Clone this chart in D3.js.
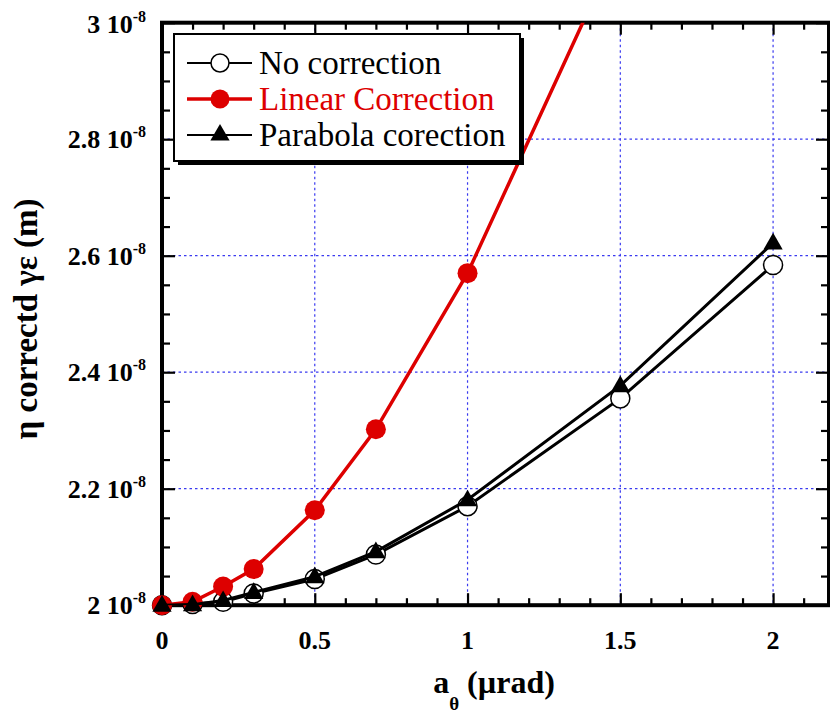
<!DOCTYPE html>
<html>
<head>
<meta charset="utf-8">
<script src="https://cdn.jsdelivr.net/npm/d3@7"></script>
<style>
    body { margin: 0; background: #fff; }
    svg text { font-family: "Liberation Serif", "Times New Roman", "DejaVu Serif", serif; }
</style>
</head>
<body>
<div id="chart"></div>
<script>
// values in units of 1e-8 m
const xVals = [0, 0.1, 0.2, 0.3, 0.5, 0.7, 1, 1.5, 2];
const noCorrection = [2.000, 2.002, 2.006, 2.020, 2.045, 2.087, 2.170, 2.355, 2.584];
const linearX = [0, 0.1, 0.2, 0.3, 0.5, 0.7, 1, 1.5];
const linearCorrection = [2.000, 2.006, 2.032, 2.062, 2.163, 2.302, 2.570, 3.14];
const parabolaCorrection = [2.000, 2.001, 2.008, 2.022, 2.049, 2.092, 2.181, 2.377, 2.622];

const xTicks = [0, 0.5, 1, 1.5, 2];
const xTickLabels = ['0', '0.5', '1', '1.5', '2'];
const yTicks = [2, 2.2, 2.4, 2.6, 2.8, 3];
const yTickLabels = ['2', '2.2', '2.4', '2.6', '2.8', '3'];
const yExponent = '-8';

const seriesNames = ['No correction', 'Linear Correction', 'Parabola corection'];

var width = 830, height = 713;
const plotLeft = 162, plotRight = 829, plotTop = 22.7, plotBottom = 605.2;
const red = '#dd0000', gridBlue = '#3a3af0';
const serif = '"Liberation Serif", "Times New Roman", "DejaVu Serif", serif';

const x = d3.scaleLinear().domain([0, 2.183]).range([plotLeft, plotRight]);
const y = d3.scaleLinear().domain([2, 3]).range([plotBottom, plotTop]);

var svg = d3.select('#chart')
    .append('svg')
    .attr('width', width)
    .attr('height', height);

svg.append('defs').append('clipPath').attr('id', 'plotclip')
    .append('rect')
    .attr('x', plotLeft).attr('y', plotTop)
    .attr('width', plotRight - plotLeft).attr('height', plotBottom - plotTop);

// grid
const grid = svg.append('g');
grid.selectAll('line.gx')
    .data(xTicks.filter(d => d > 0))
    .enter().append('line')
    .attr('x1', d => x(d)).attr('x2', d => x(d))
    .attr('y1', plotTop).attr('y2', plotBottom)
    .attr('stroke', gridBlue).attr('stroke-width', 1.2)
    .attr('stroke-dasharray', '2.5,3');
grid.selectAll('line.gy')
    .data(yTicks.filter(d => d > 2 && d < 3))
    .enter().append('line')
    .attr('y1', d => y(d)).attr('y2', d => y(d))
    .attr('x1', plotLeft).attr('x2', plotRight)
    .attr('stroke', gridBlue).attr('stroke-width', 1.2)
    .attr('stroke-dasharray', '2.5,3');

// ticks on all four sides, pointing inward
const xMinor = d3.range(0, 2.19, 0.1).map(d => +d.toFixed(2));
const yMinor = d3.range(2, 3.001, 0.05).map(d => +d.toFixed(2));
const isMajorX = d => xTicks.some(t => Math.abs(t - d) < 1e-6);
const isMajorY = d => yTicks.some(t => Math.abs(t - d) < 1e-6);

svg.append('g')
    .attr('transform', `translate(0,${plotBottom})`)
    .call(d3.axisBottom(x).tickValues(xMinor).tickSize(-7).tickFormat(''))
    .call(g => g.select('.domain').remove())
    .selectAll('.tick line').attr('stroke-width', 2.2)
    .attr('y2', d => isMajorX(d) ? -12 : -7);
svg.append('g')
    .attr('transform', `translate(0,${plotTop})`)
    .call(d3.axisTop(x).tickValues(xMinor).tickSize(-7).tickFormat(''))
    .call(g => g.select('.domain').remove())
    .selectAll('.tick line').attr('stroke-width', 2.2)
    .attr('y2', d => isMajorX(d) ? 12 : 7);
svg.append('g')
    .attr('transform', `translate(${plotLeft},0)`)
    .call(d3.axisLeft(y).tickValues(yMinor).tickSize(-8).tickFormat(''))
    .call(g => g.select('.domain').remove())
    .selectAll('.tick line').attr('stroke-width', 2.2)
    .attr('x2', d => isMajorY(d) ? 13 : 8);
svg.append('g')
    .attr('transform', `translate(${plotRight},0)`)
    .call(d3.axisRight(y).tickValues(yMinor).tickSize(-8).tickFormat(''))
    .call(g => g.select('.domain').remove())
    .selectAll('.tick line').attr('stroke-width', 2.2)
    .attr('x2', d => isMajorY(d) ? -13 : -8);

// frame
svg.append('rect')
    .attr('x', plotLeft).attr('y', plotTop)
    .attr('width', plotRight - plotLeft).attr('height', plotBottom - plotTop)
    .attr('fill', 'none').attr('stroke', '#000').attr('stroke-width', 4);

// tick labels
svg.append('g').selectAll('text')
    .data(xTicks)
    .enter().append('text')
    .attr('x', d => x(d)).attr('y', 649)
    .attr('text-anchor', 'middle')
    .attr('font-family', serif)
    .attr('font-size', 26).attr('font-weight', 'bold')
    .text((d, i) => xTickLabels[i]);

const yl = svg.append('g').selectAll('text')
    .data(yTicks)
    .enter().append('text')
    .attr('x', 146).attr('y', d => y(d) + (d === 3 ? 10 : 9))
    .attr('text-anchor', 'end')
    .attr('font-family', serif)
    .attr('font-size', 26).attr('font-weight', 'bold');
yl.append('tspan').text((d, i) => yTickLabels[i] + ' 10');
yl.append('tspan').attr('dy', -11).attr('font-size', 16).text(yExponent);

// axis titles
const xt = svg.append('text')
    .attr('x', 494).attr('y', 693)
    .attr('text-anchor', 'middle')
    .attr('font-family', serif)
    .attr('font-size', 32).attr('font-weight', 'bold');
xt.append('tspan').text('a');
xt.append('tspan').attr('dy', 17).attr('font-size', 19).text('θ');
xt.append('tspan').attr('dy', -17).text(' (µrad)');

svg.append('text')
    .attr('transform', `translate(37,${(plotTop + plotBottom) / 2 + 5}) rotate(-90)`)
    .attr('text-anchor', 'middle')
    .attr('font-family', serif)
    .attr('font-size', 33).attr('font-weight', 'bold')
    .text('η correctd γε (m)');

// series: lines clipped to the frame, markers drawn on top unclipped
const line = d3.line().x(d => x(d[0])).y(d => y(d[1]));
const marks = svg.append('g');

const tri = d3.symbol().type(d3.symbolTriangle).size(160);

function drawSeries(xs, ys, color, lw, marker) {
    const pts = xs.map((d, i) => [d, ys[i]]);
    const layer = marks.append('g');
    layer.append('path')
        .datum(pts)
        .attr('d', line)
        .attr('clip-path', 'url(#plotclip)')
        .attr('fill', 'none')
        .attr('stroke', color)
        .attr('stroke-width', lw);
    const m = layer.append('g').selectAll('.m')
        .data(pts.filter(d => d[1] <= 3))
        .enter();
    if (marker === 'open') {
        m.append('circle')
            .attr('cx', d => x(d[0])).attr('cy', d => y(d[1]))
            .attr('r', 9.5)
            .attr('fill', '#fff').attr('stroke', '#000').attr('stroke-width', 1.5);
    } else if (marker === 'filled') {
        m.append('circle')
            .attr('cx', d => x(d[0])).attr('cy', d => y(d[1]))
            .attr('r', 10)
            .attr('fill', color);
    } else {
        m.append('path')
            .attr('d', tri)
            .attr('transform', d => `translate(${x(d[0])},${y(d[1]) + 1})`)
            .attr('fill', '#000');
    }
}

drawSeries(xVals, noCorrection, '#000', 3, 'open');
drawSeries(linearX, linearCorrection, red, 3.5, 'filled');
drawSeries(xVals, parabolaCorrection, '#000', 3, 'triangle');

// legend
const lg = svg.append('g');
lg.append('rect')
    .attr('x', 178).attr('y', 38).attr('width', 346).attr('height', 127)
    .attr('fill', '#000');
lg.append('rect')
    .attr('x', 174).attr('y', 34).attr('width', 346).attr('height', 127)
    .attr('fill', '#fff').attr('stroke', '#000').attr('stroke-width', 2);

const legendRows = [
    { name: seriesNames[0], color: '#000', text: '#000', marker: 'open', y: 63 },
    { name: seriesNames[1], color: red, text: red, marker: 'filled', y: 99 },
    { name: seriesNames[2], color: '#000', text: '#000', marker: 'triangle', y: 135 }
];
legendRows.forEach(r => {
    lg.append('line')
        .attr('x1', 187).attr('x2', 252)
        .attr('y1', r.y).attr('y2', r.y)
        .attr('stroke', r.color).attr('stroke-width', r.marker === 'filled' ? 3.5 : 2);
    if (r.marker === 'open') {
        lg.append('circle').attr('cx', 220).attr('cy', r.y).attr('r', 9)
            .attr('fill', '#fff').attr('stroke', '#000').attr('stroke-width', 1.5);
    } else if (r.marker === 'filled') {
        lg.append('circle').attr('cx', 220).attr('cy', r.y).attr('r', 9.5)
            .attr('fill', red);
    } else {
        lg.append('path').attr('d', tri)
            .attr('transform', `translate(220,${r.y})`).attr('fill', '#000');
    }
    lg.append('text')
        .attr('x', 259).attr('y', r.y + 11)
        .attr('font-family', serif)
        .attr('font-size', 33)
        .attr('fill', r.text)
        .text(r.name);
});
</script>
</body>
</html>
